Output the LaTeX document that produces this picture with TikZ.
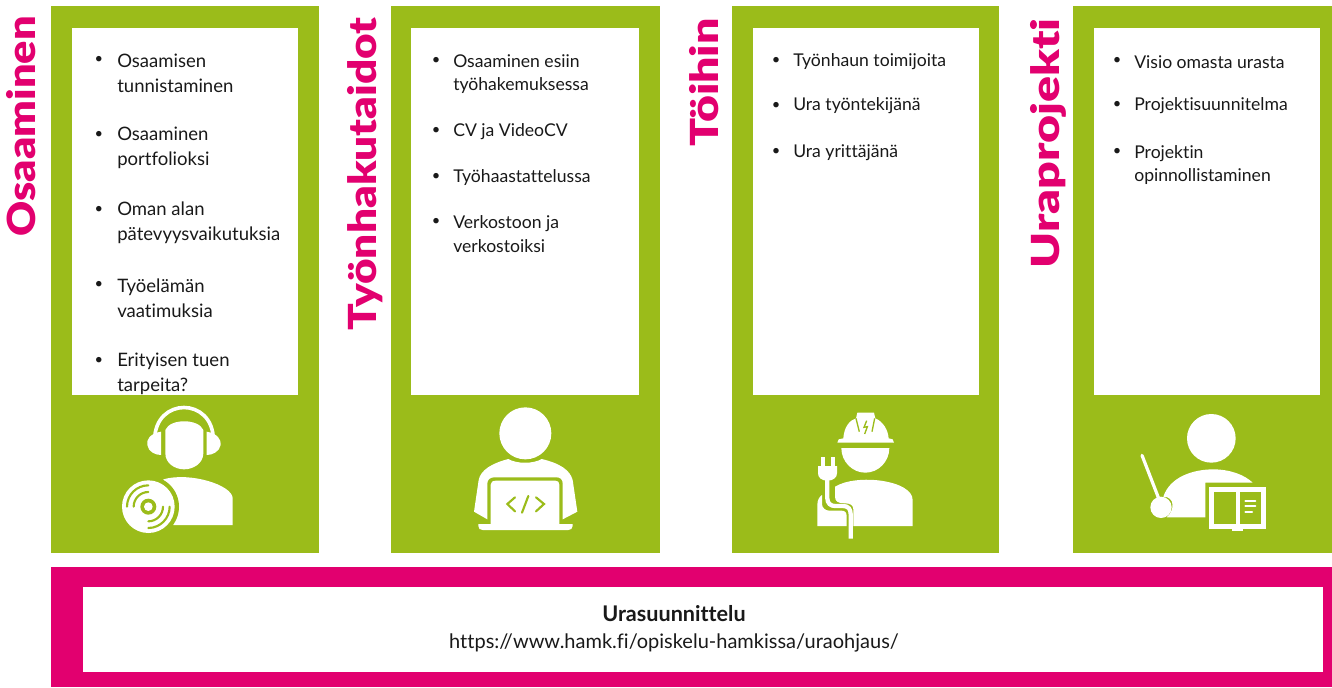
\documentclass[tikz,border=0pt]{standalone}
\usepackage{fontspec}
\setmainfont[Ligatures=NoCommon]{Lato}
\newfontfamily\headfont[Ligatures=NoCommon]{Lato Black}
\definecolor{hgreen}{HTML}{9BBC1A}
\definecolor{hpink}{HTML}{E2006F}
\tikzset{
  x=0.75pt,y=-0.75pt,
  greenbox/.style={fill=hgreen,draw=none},
  pinkbox/.style={fill=hpink,draw=none},
  whitebox/.style={fill=white,draw=none},
  heading/.style={transform shape,rotate=90,anchor=base east,font=\headfont\fontsize{29}{29}\selectfont,text=hpink,inner sep=0pt},
  itemtext/.style={anchor=west,align=left,inner sep=0pt,font=\fontsize{13.9}{18.6}\selectfont,text=black!90},
  itemsmall/.style={itemtext,font=\fontsize{13.2}{17.6}\selectfont},
  bulletmark/.style={anchor=center,inner sep=0pt,font=\fontsize{11}{11}\selectfont,text=black!90},
  ic/.style={fill=white,draw=none},
  icg/.style={draw=hgreen,line width=1.6pt,line cap=round},
  icw/.style={draw=white,line width=1.6pt,line cap=round},
}
\begin{document}
\begin{tikzpicture}
\useasboundingbox (0,0) rectangle (1332,687);
% Panels
\fill[greenbox] (51,6) rectangle (319,553);
\fill[greenbox] (391,6) rectangle (660,553);
\fill[greenbox] (732,6) rectangle (999,553);
\fill[greenbox] (1073,6) rectangle (1332,553);
\fill[whitebox] (72,28) rectangle (298,395);
\fill[whitebox] (411,28) rectangle (639,395);
\fill[whitebox] (753,28) rectangle (979,395);
\fill[whitebox] (1094,28) rectangle (1320,395);
\fill[pinkbox] (51,567) rectangle (1332,687);
\fill[whitebox] (83,587) rectangle (1323,672);
% Headings
\node[heading,xscale=1.12] (h1) at (36,16) {Osaaminen};
\node[heading,xscale=1.14] (h2) at (376,17) {Työnhakutaidot};
\node[heading,xscale=1.2] (h3) at (718,18) {Töihin};
\node[heading,xscale=1.25] (h4) at (1059,18) {Uraprojekti};
% Column 1
\node[itemtext] (a1) at (117,73) {Osaamisen\\tunnistaminen};
\node[itemtext] (a2) at (117,148) {Osaaminen\\portfolioksi};
\node[itemtext] (a3) at (117,223) {Oman alan\\pätevyysvaikutuksia};
\node[itemtext] (a4) at (117,298) {Työelämän\\vaatimuksia};
\node[itemtext] (a5) at (117,374) {Erityisen tuen\\tarpeita?};
\foreach \y in {60,135,210,285,361} \node[bulletmark] at (99,\y) {•};
% Column 2
\node[itemsmall] (b1) at (453,74) {Osaaminen esiin\\työhakemuksessa};
\node[itemsmall] (b2) at (453,132) {CV ja VideoCV};
\node[itemsmall] (b3) at (453,178) {Työhaastattelussa};
\node[itemsmall] (b4) at (453,234) {Verkostoon ja\\verkostoiksi};
\foreach \y in {61,131,177,222} \node[bulletmark] at (436,\y) {•};
% Column 3
\node[itemsmall] (c1) at (793,62) {Työnhaun toimijoita};
\node[itemsmall] (c2) at (793,106) {Ura työntekijänä};
\node[itemsmall] (c3) at (793,153) {Ura yrittäjänä};
\foreach \y in {61,106,152} \node[bulletmark] at (776,\y) {•};
% Column 4
\node[itemsmall] (d1) at (1134,62) {Visio omasta urasta};
\node[itemsmall] (d2) at (1134,106) {Projektisuunnitelma};
\node[itemsmall] (d3) at (1134,165) {Projektin\\opinnollistaminen};
\foreach \y in {61,105,152} \node[bulletmark] at (1117,\y) {•};
% Footer
\node[inner sep=0pt,align=center,font=\fontsize{15}{20}\selectfont,text=black!90] (foot) at (674,629)
  {{\fontsize{16.2}{20}\selectfont\textbf{Urasuunnittelu}}\\https://www.hamk.fi/opiskelu-hamkissa/uraohjaus/};
% Icon 1
\begin{scope}[shift={(60,390)},scale=1/3]
  \draw[draw=white,line width=2.7pt] (284,150) .. controls (284,20) and (460,20) .. (460,150);
  \fill[ic] (303,125) .. controls (270,130) and (258,150) .. (262,165) .. controls (265,185) and (285,195) .. (303,195) -- cycle;
  \fill[ic] (440,125) .. controls (472,130) and (485,150) .. (482,165) .. controls (478,185) and (458,195) .. (440,195) -- cycle;
  \fill[ic] (316,120) .. controls (330,85) and (415,85) .. (430,120) -- (430,190) .. controls (430,220) and (400,238) .. (372,238) .. controls (345,238) and (316,220) .. (316,190) -- cycle;
  \fill[ic] (310,268) .. controls (390,245) and (518,285) .. (518,325) -- (518,405) -- (340,405) -- cycle;
  \fill[hgreen] (265,350) circle[radius=92];
  \fill[ic] (265,350) circle[radius=79];
  \fill[hgreen] (265,350) circle[radius=24];
  \fill[ic] (265,350) circle[radius=13];
  \draw[icg] (265,286) arc[start angle=270,end angle=180,radius=64];
  \draw[icg] (265,306) arc[start angle=270,end angle=180,radius=44];
  \draw[icg] (265,414) arc[start angle=90,end angle=0,radius=64];
  \draw[icg] (265,394) arc[start angle=90,end angle=0,radius=44];
\end{scope}
% Icon 2
\begin{scope}[shift={(400,390)},scale=1/3]
  \fill[ic] (376,130) circle[radius=78];
  \fill[ic] (325,207) .. controls (350,222) and (400,222) .. (425,207) .. controls (480,220) and (510,240) .. (518,270) -- (532,365) -- (488,388) -- (488,280) .. controls (488,268) and (480,262) .. (470,262) -- (282,262) .. controls (270,262) and (262,270) .. (262,280) -- (262,388) -- (222,365) -- (236,270) .. controls (242,240) and (275,220) .. (325,207) -- cycle;
  \fill[ic] (288,272) -- (466,272) .. controls (474,272) and (478,276) .. (478,284) -- (478,402) -- (518,402) -- (518,408) .. controls (518,416) and (512,420) .. (505,420) -- (248,420) .. controls (240,420) and (235,416) .. (235,408) -- (235,402) -- (272,402) -- (272,284) .. controls (272,276) and (278,272) .. (288,272) -- cycle;
  \draw[icg] (345,322) -- (322,342) -- (345,364);
  \draw[icg] (408,322) -- (432,342) -- (408,364);
  \draw[icg] (385,318) -- (366,368);
\end{scope}
% Icon 3
\begin{scope}[shift={(740,390)},scale=1/3]
  \fill[ic] (292,158) -- (296,148) -- (310,145) .. controls (312,110) and (330,90) .. (348,85) -- (352,68) -- (402,68) -- (406,85) .. controls (430,95) and (444,120) .. (446,145) -- (458,148) -- (462,158) -- cycle;
  \draw[hgreen,line width=1pt] (348,85) -- (358,125);
  \draw[hgreen,line width=1pt] (404,85) -- (396,125);
  \draw[hgreen,line width=1pt] (380,92) -- (372,112) -- (382,110) -- (374,132);
  \fill[ic] (304,174) -- (448,174) .. controls (448,215) and (415,248) .. (376,248) .. controls (337,248) and (304,215) .. (304,174) -- cycle;
  \fill[ic] (285,290) .. controls (350,250) and (518,270) .. (518,330) -- (518,408) -- (340,408) -- (340,358) .. controls (340,345) and (330,340) .. (315,340) .. controls (295,340) and (285,335) .. (285,320) -- cycle;
  \fill[ic] (246,315) -- (246,342) .. controls (246,352) and (255,362) .. (268,362) -- (305,362) .. controls (315,362) and (320,368) .. (320,378) -- (320,408) -- (232,408) -- (232,345) .. controls (232,330) and (238,320) .. (246,315) -- cycle;
  \draw[draw=white,line width=3.2pt] (262,265) -- (262,325) .. controls (262,340) and (272,348) .. (285,348) -- (310,348) .. controls (325,348) and (332,358) .. (332,372) -- (332,446);
  \fill[ic] (234,228) -- (291,228) -- (291,250) .. controls (291,262) and (280,272) .. (262,272) .. controls (244,272) and (234,262) .. (234,250) -- cycle;
  \fill[ic] (242,200) rectangle (254,232);
  \fill[ic] (274,200) rectangle (286,232);
\end{scope}
% Icon 4
\begin{scope}[shift={(1080,390)},scale=1/3]
  \fill[ic] (394,145) circle[radius=73];
  \fill[ic] (250,320) .. controls (270,260) and (340,238) .. (400,238) .. controls (450,238) and (495,255) .. (518,278) -- (376,278) -- (376,382) -- (260,382) .. controls (285,360) and (285,320) .. (250,320) -- cycle;
  \draw[draw=white,line width=2.4pt,line cap=round] (186,196) -- (236,325);
  \fill[ic] (243,352) ellipse[x radius=32,y radius=32];
  \fill[ic] (388,292) rectangle (558,416);
  \fill[ic] (455,414) rectangle (490,424);
  \fill[hgreen] (403,306) rectangle (468,402);
  \fill[hgreen] (480,306) rectangle (544,402);
  \draw[icw] (496,332) -- (526,332);
  \draw[icw] (496,349) -- (526,349);
  \draw[icw] (496,365) -- (516,365);
\end{scope}
\end{tikzpicture}
\end{document}
